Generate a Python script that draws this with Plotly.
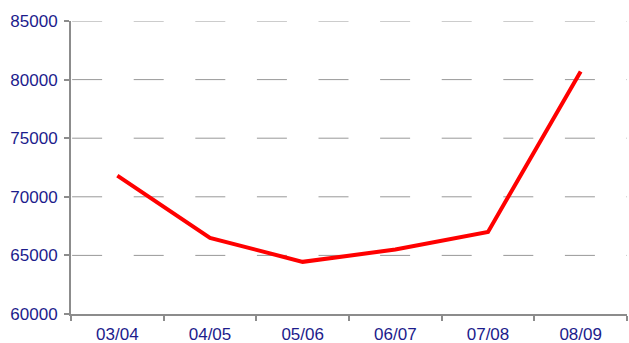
import plotly.graph_objects as go

seasons = ["03/04", "04/05", "05/06", "06/07", "07/08", "08/09"]
values = [71800, 66500, 64450, 65500, 67000, 80700]
y_ticks = [60000, 65000, 70000, 75000, 80000, 85000]

label_color = "#1c1c8c"
axis_gray = "#8c8c8c"
grid_gray = "#999999"

fig = go.Figure(
    go.Scatter(
        x=seasons,
        y=values,
        mode="lines",
        line=dict(color="#ff0000", width=4),
        hoverinfo="skip",
    )
)

# dashed horizontal gridlines, drawn as shapes so the dash pattern starts at the axis
for v in y_ticks[1:]:
    fig.add_shape(
        type="line",
        xref="paper",
        yref="y",
        x0=0.002,
        x1=1,
        y0=v,
        y1=v,
        line=dict(color=grid_gray, width=1, dash="30px,31.6px"),
        layer="below",
    )

fig.update_layout(
    width=629,
    height=343,
    margin=dict(l=71, r=2, t=21, b=29),
    paper_bgcolor="white",
    plot_bgcolor="white",
    showlegend=False,
    font=dict(family="Liberation Sans, Arial, sans-serif", size=17, color=label_color),
)

fig.update_xaxes(
    type="category",
    range=[-0.5, 5.5],
    automargin=False,
    showgrid=False,
    showline=True,
    linecolor=axis_gray,
    linewidth=2,
    ticks="outside",
    tickson="boundaries",
    ticklen=5,
    tickwidth=2,
    tickcolor=axis_gray,
    ticklabelstandoff=4,
    zeroline=False,
)

fig.update_yaxes(
    range=[60000, 85000],
    automargin=False,
    tickvals=y_ticks,
    ticktext=[str(v) for v in y_ticks],
    showgrid=False,
    showline=True,
    linecolor=axis_gray,
    linewidth=2,
    ticks="outside",
    ticklen=5,
    tickwidth=2,
    tickcolor=axis_gray,
    ticklabelstandoff=3,
    zeroline=False,
)

fig.write_html("out.html")
